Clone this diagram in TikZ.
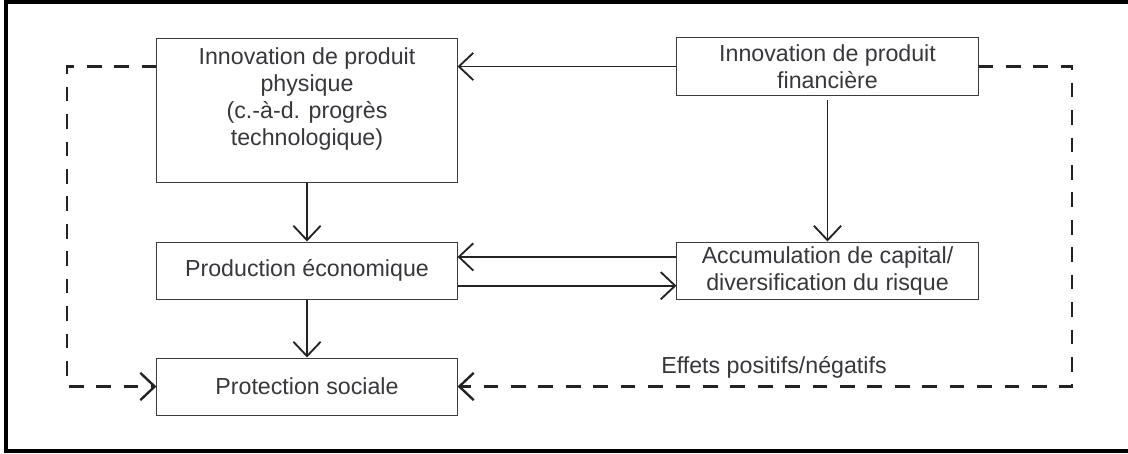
\documentclass[tikz,border=0pt]{standalone}
\usepackage{fontspec}
\setmainfont{Liberation Sans}
\usepackage{xcolor}
\usepackage{tikz}
\usetikzlibrary{arrows.meta, positioning, calc}
\definecolor{TextGray}{RGB}{55, 55, 60}
\definecolor{BoxGray}{RGB}{60, 60, 60}
\definecolor{LinkGray}{RGB}{35, 35, 35}

\tikzset{
  flowbox/.style={
    draw=BoxGray,
    line width=0.7pt,
    minimum width=7.5cm,
    minimum height=1.425cm,
    align=center,
    inner sep=0pt,
    text=TextGray,
    font=\fontsize{16.5}{19.2}\selectfont
  },
  link/.style={
    draw=LinkGray,
    line width=1.3pt,
    -{Straight Barb[length=0.36cm, width=0.68cm]}
  },
  feedback/.style={
    link,
    line width=1.7pt,
    dash pattern=on 10.5pt off 9pt
  }
}

\begin{document}
\begin{tikzpicture}[x=0.025cm, y=-0.025cm]
        \useasboundingbox (0,0) rectangle (1128,453);
        % frame
        \draw[line width=0.1cm] (1128,2) -- (6,2) -- (6,451) -- (1128,451);

        \node[flowbox, minimum height=3.6cm] (physique) at (307,110.5) {
          Innovation de produit\\
          physique\\
          (c.-à-d. progrès\\
          technologique)\\
          \mbox{}
        };
        \node[flowbox, minimum width=7.525cm] (financiere) at (827.5,66.5) {
          Innovation de produit\\
          financière
        };
        \node[flowbox] (production) at (307,270.5) {Production économique};
        \node[flowbox, minimum width=7.525cm] (accumulation) at (827.5,270.5) {
          Accumulation de capital/\\
          diversification du risque
        };
        \node[flowbox] (protection) at (307,386.5) {Protection sociale};

        \coordinate (leftcol) at (67,200);
        \coordinate (rightcol) at (1072,200);

        % solid links
        \draw[link] (financiere.west) -- (financiere.west -| physique.east);
        \draw[link] (physique.south) -- (production.north);
        \draw[link, shorten <=0.12cm] (financiere.south) -- (accumulation.north);
        \draw[link] ([yshift=0.34cm]accumulation.west) -- ([yshift=0.34cm]accumulation.west -| production.east);
        \draw[link] ([yshift=-0.38cm]production.east) -- ([yshift=-0.38cm]production.east -| accumulation.west);
        \draw[link] (production.south) -- (protection.north);

        % feedback to social protection
        \draw[feedback] (financiere.west -| physique.west) -| (leftcol) |- (protection.west);
        \draw[feedback] (financiere.east) -| (rightcol) |- (protection.east);
        \node[text=TextGray, font=\fontsize{16.5}{19.2}\selectfont] (effets) at (774,367) {Effets positifs/négatifs};
      \end{tikzpicture}
\end{document}
